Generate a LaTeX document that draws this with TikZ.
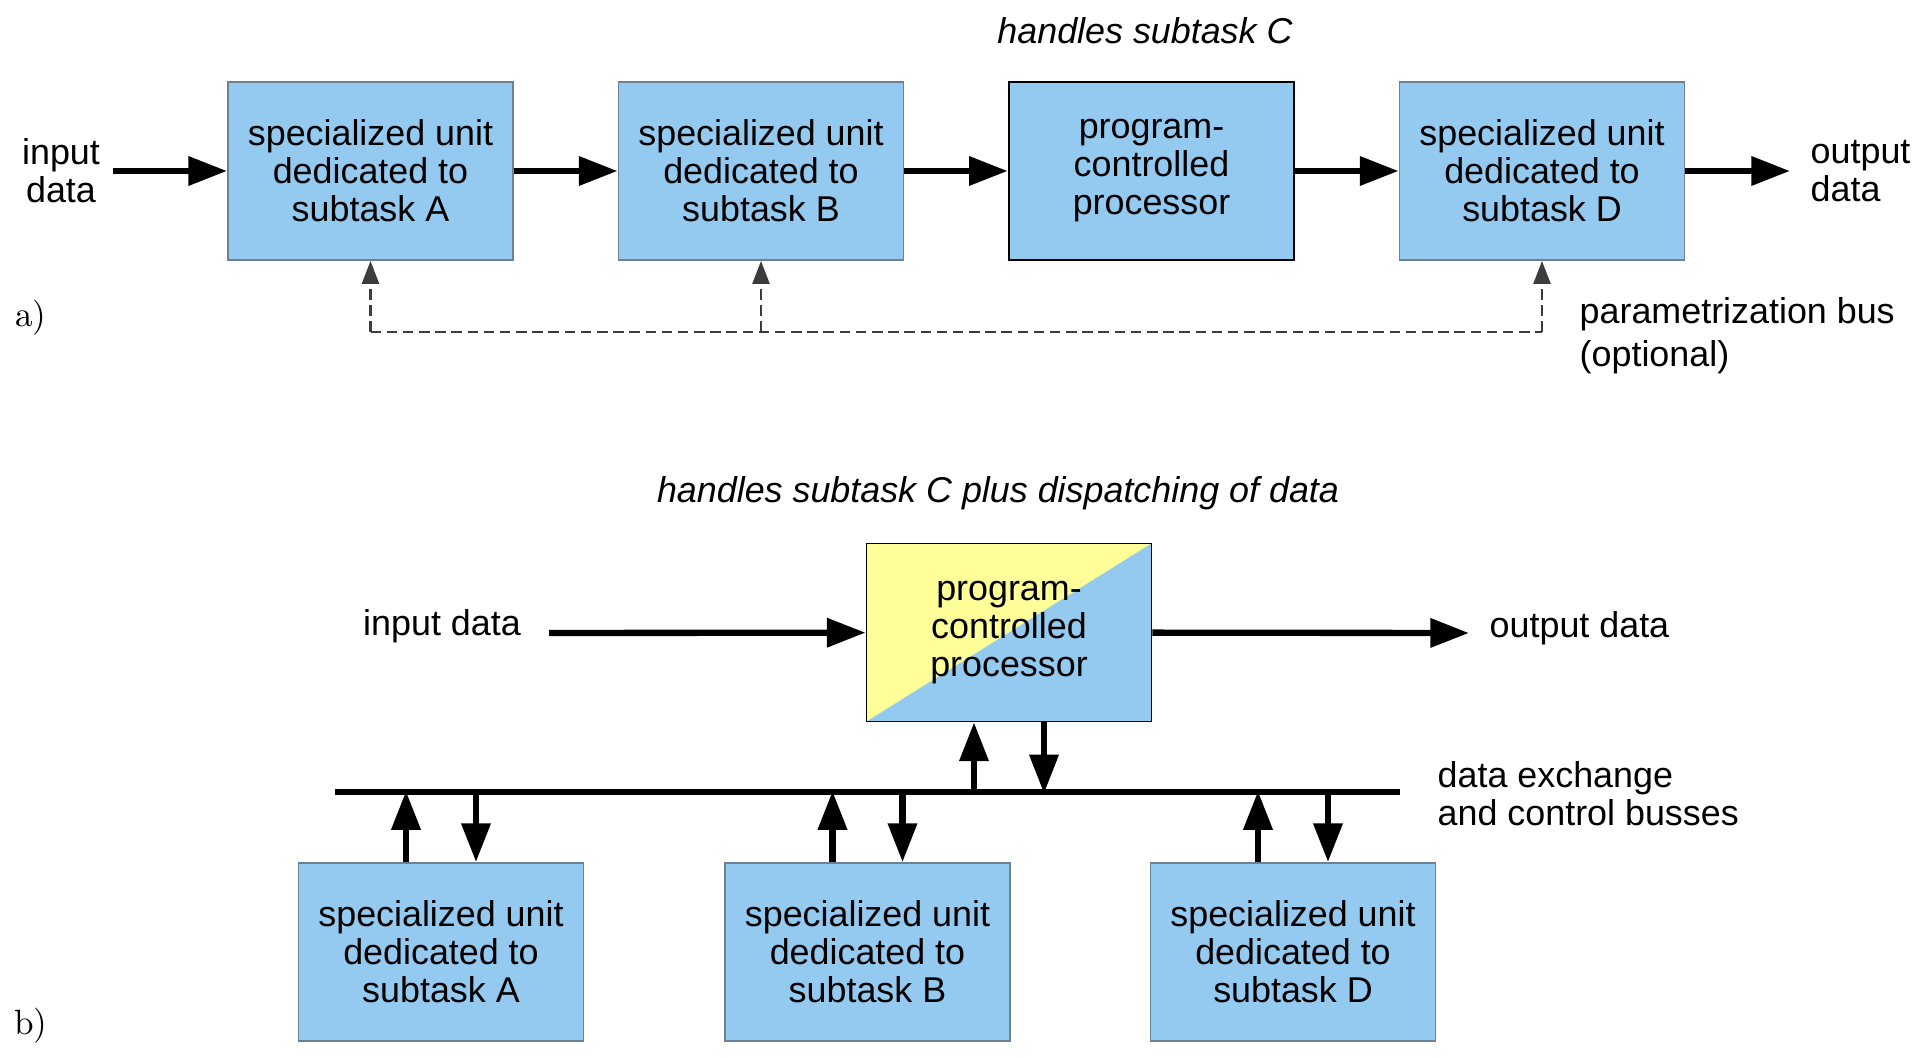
\documentclass[tikz,border=0pt]{standalone}
\usepackage{fontspec}
\newfontfamily\arialfont{Liberation Sans}
\usetikzlibrary{arrows.meta,positioning,calc}
\definecolor{unitblue}{RGB}{148,201,240}
\definecolor{procyellow}{RGB}{255,255,153}
\definecolor{unitedge}{RGB}{110,128,148}
\definecolor{busgray}{RGB}{60,60,60}

\begin{document}
\begin{tikzpicture}[x=0.01cm,y=-0.01cm]
        \tikzstyle{every node}=[font=\arialfont\fontsize{10.2}{10.8}\selectfont,inner sep=0pt]
        \tikzstyle{unit}=[draw=unitedge,line width=0.5pt,fill=unitblue,minimum width=2.85cm,minimum height=1.78cm,align=center]
        \tikzstyle{flow}=[line width=1.8pt,-{Triangle[length=11pt,width=8pt]}]
        \tikzstyle{parbus}=[draw=busgray,line width=0.7pt,dash pattern=on 3pt off 1.6pt]
        \tikzstyle{partip}=[-{Triangle[length=6.5pt,width=4.8pt]}]
        \tikzstyle{caption}=[font=\arialfont\itshape\fontsize{10.2}{10.8}\selectfont]
        \tikzstyle{panel}=[font=\rmfamily\fontsize{10}{11}\selectfont]
        \useasboundingbox (0,0) rectangle (1920,1058);

        %%% a)
        \node[caption] (capc) at (1145,31) {handles subtask C};
        \node[align=center] (in1) at (61,171) {input\\data};
        \node[unit] (a1) at (370.5,171) {specialized unit\\dedicated to\\subtask A};
        \node[unit] (b1) at (761,171) {specialized unit\\dedicated to\\subtask B};
        \node[unit,draw=black,line width=0.7pt] (c1) at (1151.5,171) {program-\\controlled\\processor};
        \node[unit] (d1) at (1542,171) {specialized unit\\dedicated to\\subtask D};
        \node[anchor=west,align=left] (out1) at (1810,171) {output\\data};
        \node[panel] (pa) at (31,318) {a)};
        \node[anchor=west,align=left,font=\arialfont\fontsize{10.2}{12.2}\selectfont] (pbus) at (1579,336) {parametrization bus\\(optional)};

        \coordinate (in1e) at (113,171);
        \coordinate (out1e) at (1790,171);
        \draw[flow] (in1e) -- (a1);
        \draw[flow] (a1) -- (b1);
        \draw[flow] (b1) -- (c1);
        \draw[flow] (c1) -- (d1);
        \draw[flow] (d1) -- (out1e);

        \coordinate (pA) at ($(a1.south)+(0,71)$);
        \coordinate (pD) at ($(d1.south)+(0,71)$);
        \draw[parbus] (pA) -- (pD);
        \foreach \u in {a1,b1,d1}
            \draw[parbus,partip] ($(\u.south)+(0,71)$) -- (\u.south);

        %%% b)
        \node[caption] (capd) at (998,493) {handles subtask C plus dispatching of data};
        \node (in2) at (442,626) {input data};
        \node[unit,draw=black,fill=procyellow,path picture={
            \fill[unitblue] (path picture bounding box.south west) -- (path picture bounding box.north east)
                -- (path picture bounding box.south east) -- cycle;}] (proc) at (1009,632.5) {program-\\controlled\\processor};
        \node[anchor=west] (out2) at (1489,628) {output data};
        \node[anchor=west,align=left] (xbus) at (1437,794) {data exchange\\and control busses};
        \node[unit] (a2) at (441,952) {specialized unit\\dedicated to\\subtask A};
        \node[unit] (b2) at (867.5,952) {specialized unit\\dedicated to\\subtask B};
        \node[unit] (d2) at (1293,952) {specialized unit\\dedicated to\\subtask D};
        \node[panel] (pb) at (31,1026) {b)};

        \coordinate (in2s) at (549,633);
        \coordinate (out2e) at (1469,633);
        \draw[flow] (in2s) -- (proc);
        \draw[flow] (proc) -- (out2e);

        \coordinate (busL) at (335,792);
        \coordinate (busR) at (1400,792);
        \draw[line width=1.8pt] (busL) -- (busR);

        \draw[flow] ($(proc.south)+(-35,71)$) -- ($(proc.south)+(-35,0)$);
        \draw[flow] ($(proc.south)+(35,0)$) -- ($(proc.south)+(35,71)$);
        \foreach \u in {a2,b2,d2}{
            \draw[flow] ($(\u.north)+(-35,0)$) -- ($(\u.north)+(-35,-71)$);
            \draw[flow] ($(\u.north)+(35,-71)$) -- ($(\u.north)+(35,0)$);
        }
\end{tikzpicture}
\end{document}
